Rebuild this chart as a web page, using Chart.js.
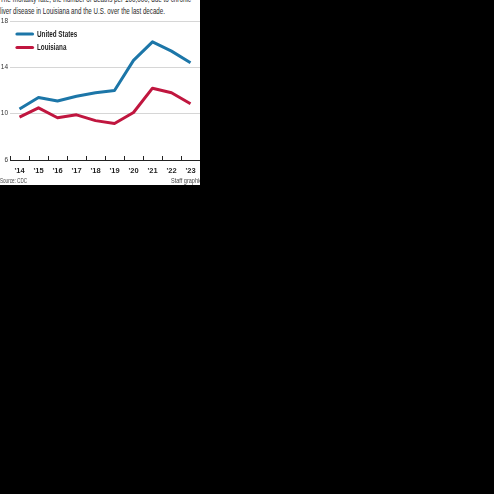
<!DOCTYPE html>
<html>
<head>
<meta charset="utf-8">
<script src="https://cdn.jsdelivr.net/npm/chart.js@4"></script>
<style>
  html, body { margin: 0; padding: 0; background: #000; }
  #frame {
    position: absolute; left: 0; top: 0;
    width: 200px; height: 185px;
    background: #fff; overflow: hidden;
  }
  .note {
    position: absolute; left: 0; white-space: nowrap;
    font-family: "Liberation Sans", Arial, sans-serif;
    color: #2a2a2a; transform-origin: left top;
  }
  #sub1 { top: -7px; font-size: 9.5px; }
  #sub2 { top: 4.5px; font-size: 9.5px; }
  #source { top: 177px; font-size: 7px; color: #444; }
  #credit { top: 177px; left: 171px; font-size: 7px; color: #444; }
  #chart { position: absolute; left: 0; top: 0; }
</style>
</head>
<body>
<div id="frame">
  <div class="note" id="sub1" data-w="191">The mortality rate, the number of deaths per 100,000, due to chronic</div>
  <div class="note" id="sub2" data-w="165">liver disease in Louisiana and the U.S. over the last decade.</div>
  <canvas id="chart" width="200" height="185"></canvas>
  <div class="note" id="source" data-w="27">Source: CDC</div>
  <div class="note" id="credit" data-w="31">Staff graphic</div>
</div>
<script>
// Chronic liver disease deaths per 100,000
const years = ["'14", "'15", "'16", "'17", "'18", "'19", "'20", "'21", "'22", "'23"];
const usRate = [10.4, 11.4, 11.1, 11.5, 11.8, 12.0, 14.6, 16.2, 15.4, 14.4];
const laRate = [9.7, 10.5, 9.65, 9.9, 9.4, 9.15, 10.1, 12.2, 11.8, 10.85];
const yTicks = [6, 10, 14, 18];

const sans = '"Liberation Sans", Arial, sans-serif';

// squeeze the html notes to the condensed width of the original type
document.querySelectorAll('.note').forEach(el => {
    const w = el.getBoundingClientRect().width;
    el.style.transform = 'scaleX(' + (Number(el.dataset.w) / w) + ')';
});

// small legend in the upper left corner of the plot
const cornerLegend = {
    id: 'cornerLegend',
    afterDraw(chart) {
        const ctx = chart.ctx;
        ctx.save();
        chart.data.datasets.forEach((ds, i) => {
            const y = 34 + i * 13.5;
            ctx.strokeStyle = ds.borderColor;
            ctx.lineWidth = 3.2;
            ctx.lineCap = 'round';
            ctx.beginPath();
            ctx.moveTo(17, y);
            ctx.lineTo(32.5, y);
            ctx.stroke();
            ctx.fillStyle = '#1e1e1e';
            ctx.font = 'bold 8.3px ' + sans;
            ctx.textBaseline = 'middle';
            const w = ctx.measureText(ds.label).width;
            ctx.fillText(ds.label, 37, y + 0.5, w * 0.76);
        });
        ctx.restore();
    }
};

new Chart(document.getElementById('chart'), {
    type: 'line',
    data: {
        labels: years,
        datasets: [
            {
                label: 'United States',
                data: usRate,
                borderColor: '#1c76a8',
                borderWidth: 3,
                pointRadius: 0,
                tension: 0,
                borderJoinStyle: 'round'
            },
            {
                label: 'Louisiana',
                data: laRate,
                borderColor: '#c0163f',
                borderWidth: 3,
                pointRadius: 0,
                tension: 0,
                borderJoinStyle: 'round'
            }
        ]
    },
    options: {
        responsive: false,
        animation: false,
        devicePixelRatio: 1,
        layout: { padding: { top: 21, right: 0, left: 0, bottom: 0 } },
        plugins: {
            legend: { display: false },
            tooltip: { enabled: false }
        },
        scales: {
            x: {
                offset: true,
                afterFit(scale) {
                    scale.height = 25;
                    scale.paddingLeft = 0;
                    scale.paddingRight = 0;
                },
                grid: {
                    offset: true,
                    drawOnChartArea: false,
                    tickLength: -4,
                    color: '#222'
                },
                border: { color: '#222', width: 1 },
                ticks: {
                    padding: 10,
                    color: '#1e1e1e',
                    font: { family: sans, size: 7.5, weight: 'bold' }
                }
            },
            y: {
                min: 6,
                max: 18,
                afterFit(scale) { scale.width = 10; },
                afterBuildTicks(scale) {
                    scale.ticks = yTicks.map(v => ({ value: v }));
                },
                grid: {
                    drawTicks: false,
                    color: '#d6d6d6'
                },
                border: { display: false },
                ticks: {
                    padding: 2,
                    color: '#333',
                    font: { family: sans, size: 6.5 }
                }
            }
        }
    },
    plugins: [cornerLegend]
});
</script>
</body>
</html>
